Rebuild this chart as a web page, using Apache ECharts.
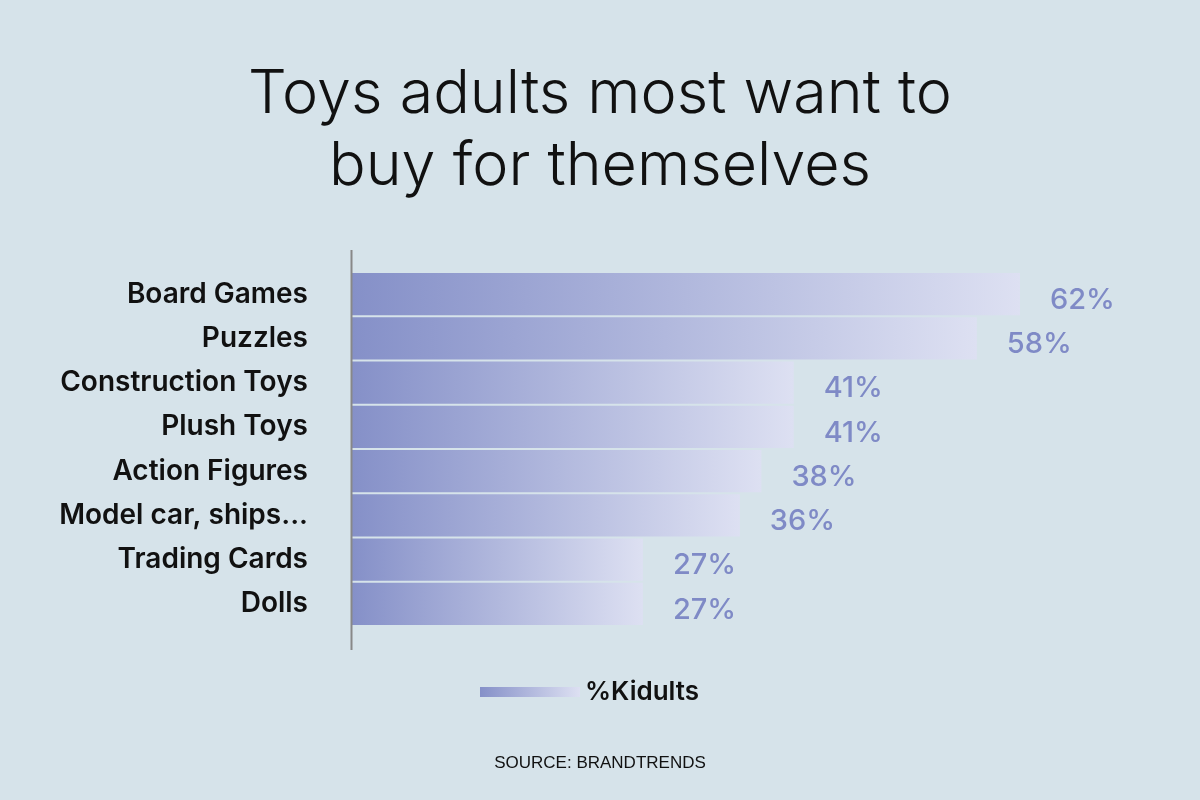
<!DOCTYPE html>
<html>
<head>
<meta charset="utf-8">
<script src="https://cdn.jsdelivr.net/npm/echarts@6/dist/echarts.min.js"></script>
<style>
  html, body { margin: 0; padding: 0; background: #d6e3ea; }
  #chart { width: 1200px; height: 800px; }
</style>
</head>
<body>
<div id="chart"></div>
<script>
const categories = ['Board Games', 'Puzzles', 'Construction Toys', 'Plush Toys',
  'Action Figures', 'Model car, ships...', 'Trading Cards', 'Dolls'];
const kidults = [62, 58, 41, 41, 38, 36, 27, 27];

const chart = echarts.init(document.getElementById('chart'));

const barGradient = new echarts.graphic.LinearGradient(0, 0, 1, 0, [
  { offset: 0, color: '#8590c8' },
  { offset: 1, color: '#dde0f2' }
]);

chart.setOption({
  backgroundColor: '#d6e3ea',
  textStyle: { fontFamily: 'Inter' },
  title: [
    {
      text: 'Toys adults most want to\nbuy for themselves',
      left: 'center',
      top: 54,
      textStyle: {
        fontFamily: 'Inter',
        fontWeight: 300,
        fontSize: 61,
        lineHeight: 72,
        color: '#111'
      }
    },
    {
      text: 'SOURCE: BRANDTRENDS',
      left: 'center',
      top: 750,
      textStyle: {
        fontFamily: 'Liberation Sans',
        fontWeight: 400,
        fontSize: 17,
        color: '#111'
      }
    }
  ],
  legend: {
    data: ['%Kidults'],
    left: 475,
    top: 674,
    itemWidth: 100,
    itemHeight: 10,
    itemGap: 12,
    icon: 'rect',
    textStyle: {
      fontFamily: 'Inter',
      fontWeight: 600,
      fontSize: 26,
      color: '#111'
    }
  },
  grid: {
    left: 352,
    right: 40,
    top: 272,
    bottom: 174,
    containLabel: false
  },
  xAxis: {
    type: 'value',
    min: 0,
    max: 75,
    show: false
  },
  yAxis: {
    type: 'category',
    data: categories,
    inverse: true,
    axisLine: { show: false },
    axisTick: { show: false },
    axisLabel: {
      margin: 44,
      fontFamily: 'Inter',
      fontWeight: 600,
      fontSize: 28,
      color: '#111'
    }
  },
  graphic: [
    {
      type: 'line',
      shape: { x1: 351.5, y1: 250, x2: 351.5, y2: 650 },
      style: { stroke: '#888', lineWidth: 2 },
      z: 10
    }
  ],
  series: [
    {
      name: '%Kidults',
      type: 'bar',
      data: kidults,
      barCategoryGap: '4%',
      itemStyle: { color: barGradient },
      label: {
        show: true,
        position: 'right',
        distance: 30,
        offset: [0, 6],
        formatter: '{c}%',
        fontFamily: 'Inter',
        fontWeight: 500,
        fontSize: 29,
        color: '#7f8ac6'
      }
    }
  ]
});
</script>
</body>
</html>
